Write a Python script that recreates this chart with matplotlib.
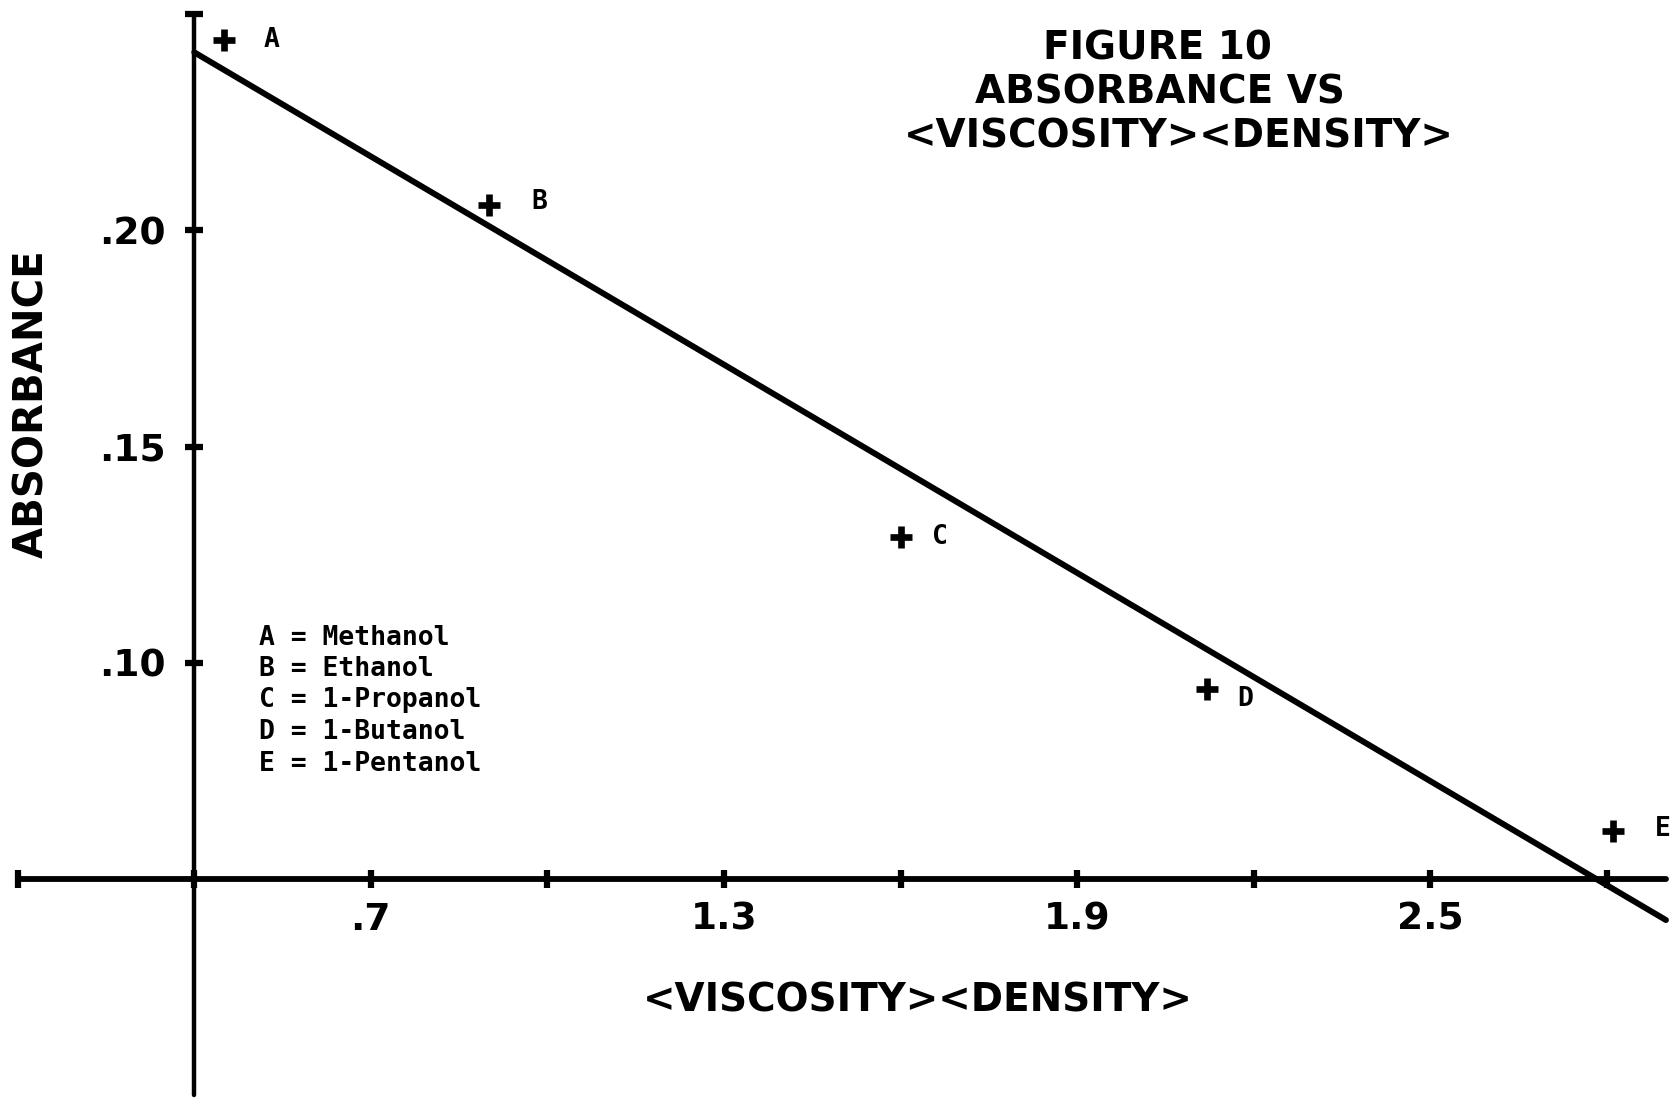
import numpy as np
import matplotlib
matplotlib.use("Agg")
import matplotlib.pyplot as plt

# Solvent series: absorbance against the product viscosity x density
point_labels = ["A", "B", "C", "D", "E"]
solvents = ["Methanol", "Ethanol", "1-Propanol", "1-Butanol", "1-Pentanol"]
visc_density = [0.45, 0.90, 1.60, 2.12, 2.81]
absorbance = [0.244, 0.206, 0.129, 0.094, 0.061]

x_ticks = [0.1, 0.4, 0.7, 1.0, 1.3, 1.6, 1.9, 2.2, 2.5, 2.8]
x_tick_labels = ["", "", ".7", "", "1.3", "", "1.9", "", "2.5", ""]
y_ticks = [0.10, 0.15, 0.20, 0.25]
y_tick_labels = [".10", ".15", ".20", ""]

title_lines = ["FIGURE 10", "ABSORBANCE VS", "<VISCOSITY><DENSITY>"]
x_title = "<VISCOSITY><DENSITY>"
y_title = "ABSORBANCE"

W, H = 1673, 1100
fig = plt.figure(figsize=(W / 100, H / 100), dpi=100)
ax = fig.add_axes([0, 0, 1, 1])
ax.set_xlim(0.070, 2.912)
ax.set_ylim(-0.0011, 0.2533)
ax.patch.set_visible(False)

block = dict(family="DejaVu Sans", fontweight="bold", color="black")
mono = dict(family="DejaVu Sans Mono", fontweight="bold", color="black")

# axes crossing inside the plot
for side in ("top", "right"):
    ax.spines[side].set_visible(False)
ax.spines["left"].set_position(("data", 0.4))
ax.spines["bottom"].set_position(("data", 0.05))
ax.spines["left"].set_bounds(0.0, 0.25)
ax.spines["bottom"].set_bounds(0.1, 2.9)
ax.spines["left"].set_linewidth(3.2)
ax.spines["bottom"].set_linewidth(4.2)
for s in ("left", "bottom"):
    ax.spines[s].set_capstyle("round")

ax.set_xticks(x_ticks)
ax.set_xticklabels(x_tick_labels, fontsize=27, **block)
ax.set_yticks(y_ticks)
ax.set_yticklabels(y_tick_labels, fontsize=27, **block)
ax.tick_params(axis="both", direction="inout", length=13, width=4.5)
ax.tick_params(axis="x", pad=10)
ax.tick_params(axis="y", pad=14)

# least-squares line through the five solvents
coef = np.polyfit(visc_density, absorbance, 1)
xfit = np.array([0.4, 2.9])
ax.plot(xfit, np.polyval(coef, xfit), color="black", lw=4.3,
        solid_capstyle="round")

ax.plot(visc_density, absorbance, linestyle="none", marker="+",
        ms=16, mew=4.8, color="black")

label_offsets = [(34.6, 0), (36.7, 2), (28.4, 0), (27.4, -7), (36, 1.5)]
for lbl, x, y, off in zip(point_labels, visc_density, absorbance, label_offsets):
    ax.annotate(lbl, (x, y), xytext=off, textcoords="offset points",
                ha="center", va="center", fontsize=19, **mono)

# key of solvent letters
key_y = [638, 669, 700, 732, 764]
for lbl, name, yy in zip(point_labels, solvents, key_y):
    ax.text(259 / W, 1 - yy / H, f"{lbl} = {name}", transform=ax.transAxes,
            ha="left", va="center", fontsize=19, **mono)

# title block
title_pos = [(1157, 48), (1160, 93), (1179, 137)]
for line, (tx, ty) in zip(title_lines, title_pos):
    ax.text(tx / W, 1 - ty / H, line, transform=ax.transAxes,
            ha="center", va="center", fontsize=28, **block)

ax.text(918 / W, 1 - 1000 / H, x_title, transform=ax.transAxes,
        ha="center", va="center", fontsize=28, **block)
ax.text(32 / W, 1 - 404 / H, y_title, transform=ax.transAxes, rotation=90,
        ha="center", va="center", fontsize=29, **block)

fig.savefig("out.png", dpi=100, facecolor="white")
